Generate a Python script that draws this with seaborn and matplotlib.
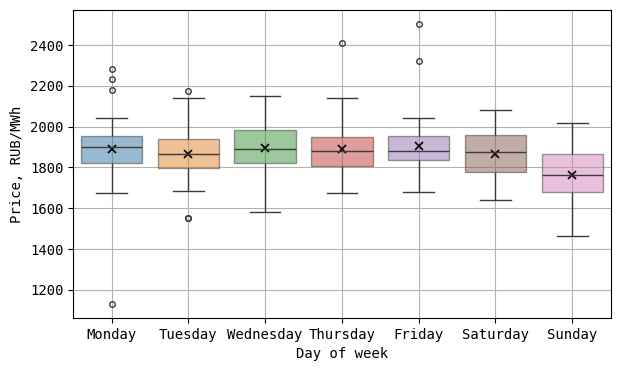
import numpy as np
import pandas as pd
import matplotlib
matplotlib.use("Agg")
import matplotlib.pyplot as plt
import seaborn as sns

days = ["Monday", "Tuesday", "Wednesday", "Thursday", "Friday", "Saturday", "Sunday"]

# box statistics (RUB/MWh)
whisker_low = [1675, 1685, 1582, 1675, 1680, 1641, 1465]
q1 = [1822, 1798, 1822, 1809, 1837, 1778, 1680]
median = [1902, 1866, 1892, 1881, 1881, 1876, 1765]
q3 = [1954, 1940, 1983, 1949, 1954, 1959, 1865]
whisker_high = [2044, 2140, 2149, 2140, 2044, 2082, 2018]
means = [1891, 1866, 1895, 1891, 1905, 1866, 1762]
outliers_low = [[1131], [1550, 1553], [], [], [], [], []]
outliers_high = [[2180, 2233, 2282], [2175], [], [2410], [2322, 2503], [], []]


def sample_for_day(i, k=4):
    # sorted sample of 4k+1 values whose quartiles land on the read values
    lo = outliers_low[i] + [whisker_low[i]] + [q1[i]] * (k - len(outliers_low[i]) - 1)
    hi = [q3[i]] * (k - len(outliers_high[i]) - 1) + [whisker_high[i]] + outliers_high[i]
    core = [q1[i]] + [median[i]] * (2 * k - 1) + [q3[i]]
    return lo + core + hi


rows = []
for i, d in enumerate(days):
    for v in sample_for_day(i):
        rows.append({"day": d, "price": v})
df = pd.DataFrame(rows)

fig, ax = plt.subplots(figsize=(6.25, 3.71), dpi=100)
plt.rcParams["font.family"] = ["DejaVu Sans Mono"]

sns.boxplot(data=df, x="day", y="price", hue="day", order=days, palette="tab10",
            legend=False, boxprops={"alpha": 0.5}, linecolor="#3a3a3a",
            flierprops={"marker": "o", "markersize": 4, "markeredgecolor": "#3a3a3a"},
            ax=ax)
sns.pointplot(x=days, y=means, order=days, linestyle="none", marker="x", color="black",
              markersize=6, markeredgewidth=1.2, errorbar=None, ax=ax)

ax.grid(True, color="#b4b4a6", linewidth=0.8)
ax.set_axisbelow(True)
ax.set_xlabel("Day of week", fontfamily="DejaVu Sans Mono", fontsize=10)
ax.set_ylabel("Price, RUB/MWh", fontfamily="DejaVu Sans Mono", fontsize=10)
for lab in ax.get_xticklabels() + ax.get_yticklabels():
    lab.set_fontfamily("DejaVu Sans Mono")
    lab.set_fontsize(10)

plt.subplots_adjust(left=0.117, right=0.977, top=0.973, bottom=0.143)
plt.savefig("out.png", dpi=100)
